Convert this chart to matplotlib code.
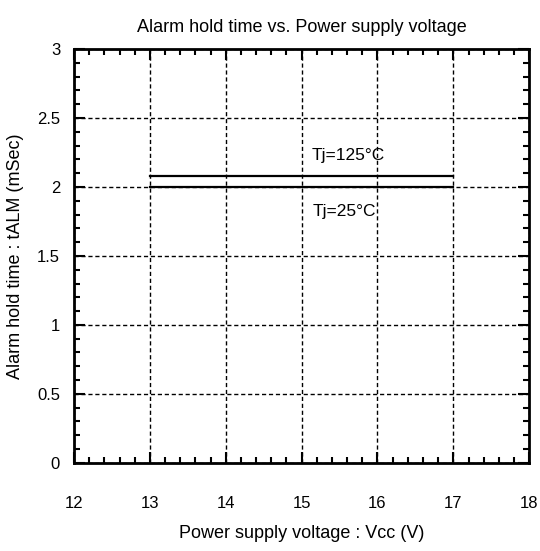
import numpy as np
import matplotlib
matplotlib.use("Agg")
from matplotlib import pyplot as plt
import matplotlib.ticker as ticker

plt.rcParams['font.family'] = ['Liberation Sans', 'DejaVu Sans']

# data
vcc = [13, 17]
t_125 = [2.08, 2.08]
t_25 = [2.0, 2.0]

xticks = [12, 13, 14, 15, 16, 17, 18]
yticks = [0, 0.5, 1, 1.5, 2, 2.5, 3]
ytick_labels = ['0', '0.5', '1', '1.5', '2', '2.5', '3']

fig = plt.figure(figsize=(5.4, 5.51), dpi=100)
ax = fig.add_axes([0.137, 0.160, 0.843, 0.751])

ax.plot(vcc, t_125, '-', color='black', lw=1.6)
ax.plot(vcc, t_25, '-', color='black', lw=1.6)

ax.text(15.13, 2.23, 'Tj=125°C', fontsize=12.5, va='center', ha='left')
ax.text(15.14, 1.82, 'Tj=25°C', fontsize=12.5, va='center', ha='left')

ax.set_xlim(12, 18)
ax.set_ylim(0, 3)
ax.set_xticks(xticks)
ax.set_yticks(yticks)
ax.set_yticklabels(ytick_labels)
ax.xaxis.set_minor_locator(ticker.MultipleLocator(0.2))
ax.yaxis.set_minor_locator(ticker.MultipleLocator(0.1))

ax.tick_params(which='major', direction='in', top=True, right=True,
               length=8, width=1.5, labelsize=12)
ax.tick_params(which='minor', direction='in', top=True, right=True,
               length=4, width=1.5)
ax.tick_params(axis='x', which='major', pad=24)
ax.tick_params(axis='y', which='major', pad=10)

ax.grid(which='major', linestyle=(0, (3, 2)), color='black', lw=1)
for s in ax.spines.values():
    s.set_linewidth(2)

ax.set_title('Alarm hold time vs. Power supply voltage', fontsize=13, pad=12)
ax.set_xlabel('Power supply voltage : Vcc (V)', fontsize=13, labelpad=10)
ax.set_ylabel('Alarm hold time : tALM (mSec)', fontsize=13, labelpad=9)

fig.savefig('out.png', dpi=100)
